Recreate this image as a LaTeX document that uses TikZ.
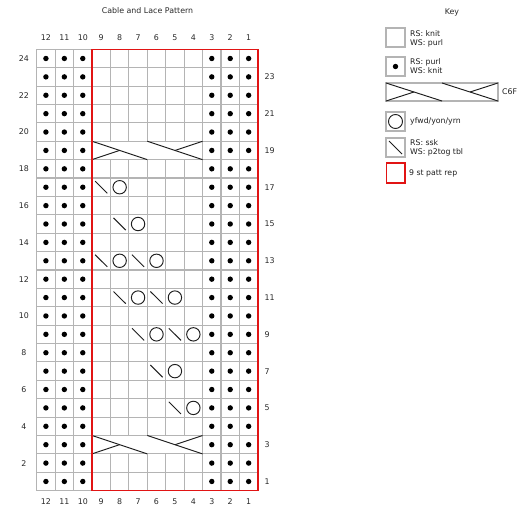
\documentclass[tikz,border=0pt]{standalone}
\usepackage{fontspec}
\setmainfont{DejaVu Sans}
\begin{document}
\begin{tikzpicture}[x=1bp,y=-1bp,
  gridline/.style={draw={rgb,255:red,180;green,180;blue,180},line width=1.1bp},
  ink/.style={draw={rgb,255:red,30;green,30;blue,30},line width=0.95bp},
  reprect/.style={draw={rgb,255:red,225;green,20;blue,20},line width=1.5bp},
  lbl/.style={font=\fontsize{7.9}{9}\selectfont,text={rgb,255:red,40;green,40;blue,40},inner sep=0pt},
  keytxt/.style={font=\fontsize{7.8}{9.2}\selectfont,text={rgb,255:red,30;green,30;blue,30},inner sep=0pt,anchor=west,align=left},
  dotmark/.style={fill=black},
]
\useasboundingbox (0,0) rectangle (521,508);
\node[lbl] (title) at (147.5,11) {Cable and Lace Pattern};
\node[lbl] (keytitle) at (452,12) {Key};
% chart
\begin{scope}[shift={(36.7,49.3)},x=18.43bp,y=-18.39bp]
  \foreach \i in {0,...,12} \draw[gridline] (\i,0) -- (\i,24);
  \foreach \j in {0,...,24} \draw[gridline] (0,\j) -- (12,\j);
  % purl dots
  \foreach \r in {1,...,24} {
    \foreach \c in {1,2,3,10,11,12} {
      \fill[dotmark] (12-\c+0.5,24-\r+0.5) circle[radius=2.7bp];
    }
  }
  % cables rows 19 and 3
  \foreach \r in {19,3} {
    \pgfmathsetmacro\t{24-\r}
    \pgfmathsetmacro\b{25-\r}
    \pgfmathsetmacro\m{24.5-\r}
    \fill[white] (3.05,\t+0.05) rectangle (8.95,\b-0.05);
    \draw[ink] (3,\t) -- (6,\b);
    \draw[ink] (3,\b) -- (4.5,\m);
    \draw[ink] (6,\t) -- (9,\b);
    \draw[ink] (7.5,\m) -- (9,\t);
  }
  % ssk and yo pairs: (row, ssk column)
  \foreach \r/\c in {17/9,15/8,13/9,13/7,11/8,11/6,9/7,9/5,7/6,5/5} {
    \pgfmathsetmacro\l{12-\c}
    \pgfmathsetmacro\t{24-\r}
    \draw[ink] (\l+0.17,\t+0.17) -- (\l+0.83,\t+0.83);
    \draw[ink] (\l+1.5,\t+0.5) circle[radius=6.7bp];
  }
  \draw[reprect] (3,0) rectangle (12,24);
  % column numbers
  \foreach \c in {1,...,12} {
    \node[lbl] (ct\c) at (12-\c+0.5,-0.62) {\c};
    \node[lbl] (cb\c) at (12-\c+0.5,24.6) {\c};
  }
  % row numbers
  \foreach \r in {2,4,...,24} \node[lbl] (rl\r) at (-0.7,24-\r+0.5) {\r};
  \foreach \r in {1,3,...,23} \node[lbl,anchor=west] (rr\r) at (12.35,24-\r+0.5) {\r};
\end{scope}
% key
\draw[gridline] (386,28) rectangle (405,47);
\node[keytxt] (k1) at (410,39) {RS: knit\\WS: purl};
\draw[gridline] (386,57) rectangle (405,76);
\fill[dotmark] (395.5,66.5) circle[radius=2.7bp];
\node[keytxt] (k2) at (410,66.5) {RS: purl\\WS: knit};
\draw[gridline] (386,83) rectangle (498,101);
\draw[ink] (386,83) -- (442,101);
\draw[ink] (386,101) -- (414,92);
\draw[ink] (442,83) -- (498,101);
\draw[ink] (470,92) -- (498,83);
\node[keytxt] (k3) at (502,92) {C6F};
\draw[gridline] (386,112) rectangle (405,131);
\draw[ink] (395.5,121.5) circle[radius=7bp];
\node[keytxt] (k4) at (410,121.5) {yfwd/yon/yrn};
\draw[gridline] (386,138) rectangle (405,157);
\draw[ink] (389,141) -- (402,154);
\node[keytxt] (k5) at (410,147.5) {RS: ssk\\WS: p2tog tbl};
\draw[reprect] (386.5,163) rectangle (405,183);
\node[keytxt] (k6) at (409,173) {9 st patt rep};
\end{tikzpicture}
\end{document}
